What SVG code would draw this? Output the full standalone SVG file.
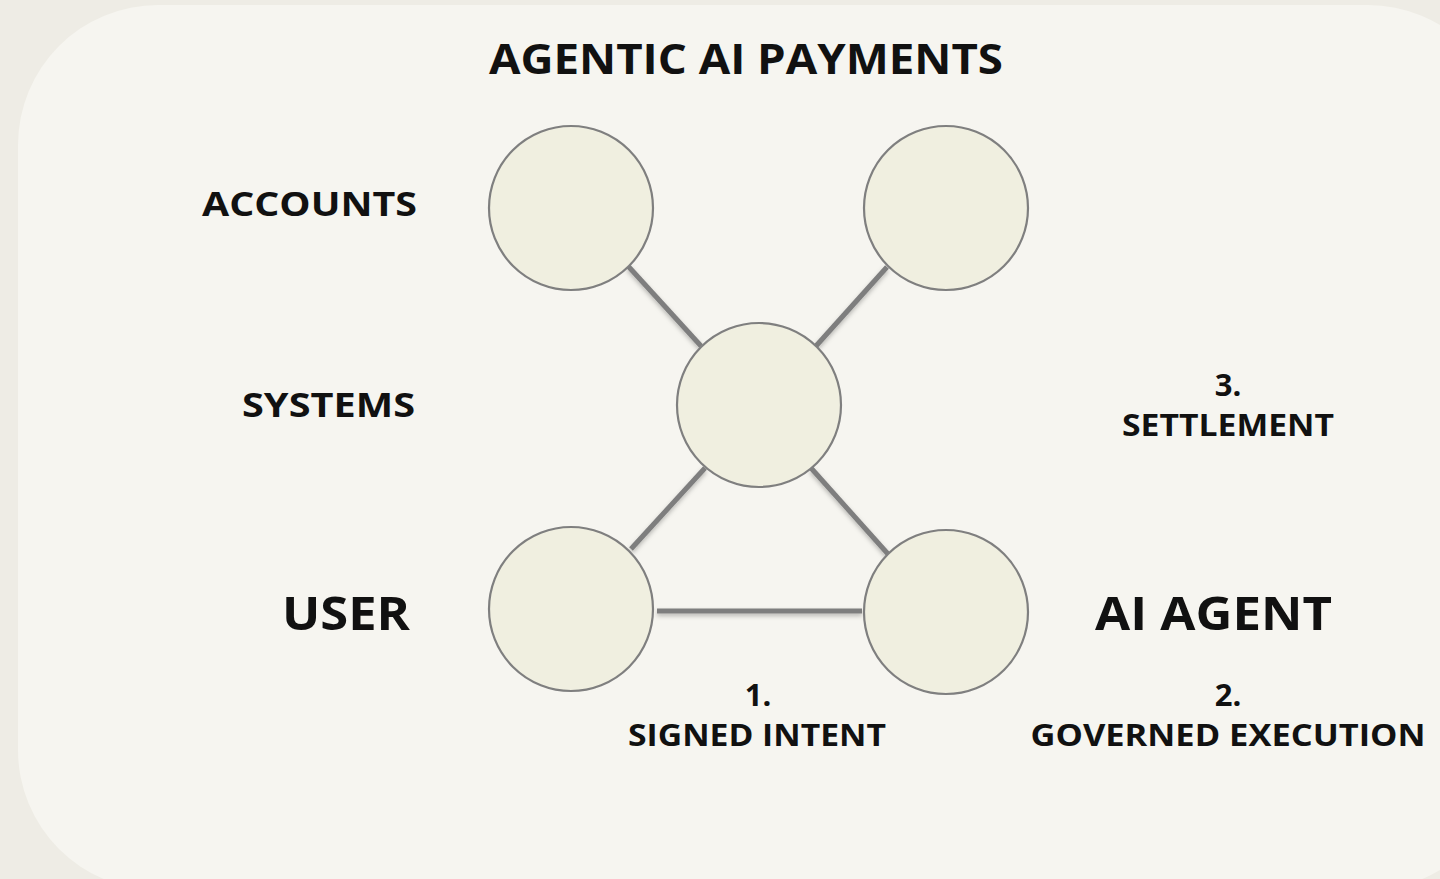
<svg xmlns="http://www.w3.org/2000/svg" width="1440" height="879" viewBox="0 0 1440 879">
  <style>
    .node { fill: #F0EFE0; stroke: #7F7F7F; stroke-width: 2.2; }
    .link { stroke: #7E7E7E; stroke-width: 5; stroke-linecap: butt; fill: none; }
    text { font-family: "Open Sans", "Liberation Sans", sans-serif; font-weight: 700; fill: #111111; }
    .title { font-size: 42px; }
    .layer { font-size: 34px; text-anchor: end; }
    .actor { font-size: 47px; }
    .step { font-size: 31px; text-anchor: middle; }
  </style>
  <defs>
    <filter id="soft" x="-20%" y="-20%" width="140%" height="160%">
      <feDropShadow dx="0" dy="2.5" stdDeviation="2" flood-color="#000000" flood-opacity="0.25"/>
    </filter>
  </defs>

  <!-- page and card -->
  <rect x="0" y="0" width="1440" height="879" fill="#EEECE5"/>
  <rect x="18" y="5" width="1490" height="885" rx="140" ry="140" fill="#F6F5F0"/>

  <!-- connectors -->
  <g id="connectors" filter="url(#soft)">
    <line class="link" x1="628" y1="266" x2="701" y2="346"/>
    <line class="link" x1="887" y1="267" x2="816" y2="346"/>
    <line class="link" x1="705" y1="468" x2="631" y2="549"/>
    <line class="link" x1="811" y1="468" x2="888" y2="554"/>
    <line class="link" x1="657" y1="611" x2="862" y2="611"/>
  </g>

  <!-- nodes -->
  <g id="node-accounts"><circle class="node" cx="571" cy="208" r="82"/></g>
  <g id="node-accounts-right"><circle class="node" cx="946" cy="208" r="82"/></g>
  <g id="node-systems"><circle class="node" cx="759" cy="405" r="82"/></g>
  <g id="node-user"><circle class="node" cx="571" cy="609" r="82"/></g>
  <g id="node-agent"><circle class="node" cx="946" cy="612" r="82"/></g>

  <!-- labels -->
  <g id="labels">
    <text class="title" x="489" y="74" textLength="514" lengthAdjust="spacingAndGlyphs">AGENTIC AI PAYMENTS</text>
    <text class="layer" x="417" y="216" textLength="215" lengthAdjust="spacingAndGlyphs">ACCOUNTS</text>
    <text class="layer" x="415" y="417" textLength="173" lengthAdjust="spacingAndGlyphs">SYSTEMS</text>
    <text class="actor" x="282" y="630" textLength="128" lengthAdjust="spacingAndGlyphs">USER</text>
    <text class="actor" x="1095" y="630" textLength="237" lengthAdjust="spacingAndGlyphs">AI AGENT</text>
    <text class="step" x="1228" y="396">3.</text>
    <text class="step" x="1228" y="436" textLength="212" lengthAdjust="spacingAndGlyphs">SETTLEMENT</text>
    <text class="step" x="758" y="706">1.</text>
    <text class="step" x="757" y="746" textLength="258" lengthAdjust="spacingAndGlyphs">SIGNED INTENT</text>
    <text class="step" x="1228" y="706">2.</text>
    <text class="step" x="1228" y="746" textLength="395" lengthAdjust="spacingAndGlyphs">GOVERNED EXECUTION</text>
  </g>
</svg>
